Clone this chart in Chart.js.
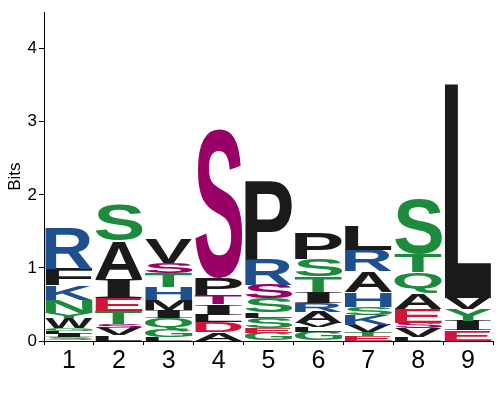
<!DOCTYPE html>
<html>
<head>
<meta charset="utf-8">
<script src="https://cdn.jsdelivr.net/npm/chart.js@4"></script>
<style>
  html, body { margin: 0; padding: 0; background: #fff; }
  #wrap { width: 500px; height: 400px; }
</style>
</head>
<body>
<div id="wrap"><canvas id="logoChart" width="500" height="400"></canvas></div>
<script>
// sequence positions
var positions = ['1', '2', '3', '4', '5', '6', '7', '8', '9'];

// letters per position, bottom to top (lowercase = phospho residue)
var stackLetters = [
  ['S', 'I', 'L', 'G', 'W', 'Y', 'N', 'K', 'F', 'R'],
  ['L', 'V', 's', 'T', 'E', 'I', 'A', 'S'],
  ['L', 'G', 'Q', 'I', 'M', 'H', 'T', 's', 'V'],
  ['A', 'D', 'L', 'I', 't', 'P', 's'],
  ['G', 'E', 'S', 'L', 'S', 's', 'R', 'P'],
  ['G', 'L', 'V', 'A', 'R', 'I', 'T', 'S', 'P'],
  ['E', 'T', 'V', 'K', 'S', 'H', 'A', 'R', 'L'],
  ['L', 'V', 's', 'E', 'A', 'Q', 'T', 'S'],
  ['E', 'I', 'Y', 'V', 'L']
];

// letter heights in bits, same order
var stackBits = [
  [0.05, 0.05, 0.04, 0.04, 0.13, 0.07, 0.18, 0.20, 0.23, 0.56],
  [0.08, 0.10, 0.05, 0.18, 0.18, 0.26, 0.52, 0.49],
  [0.05, 0.10, 0.16, 0.11, 0.14, 0.18, 0.19, 0.14, 0.33],
  [0.12, 0.14, 0.10, 0.14, 0.13, 0.23, 2.04],
  [0.11, 0.07, 0.14, 0.07, 0.19, 0.19, 0.34, 1.08],
  [0.13, 0.06, 0.06, 0.15, 0.12, 0.15, 0.21, 0.24, 0.36],
  [0.07, 0.05, 0.10, 0.14, 0.11, 0.20, 0.29, 0.29, 0.33],
  [0.05, 0.12, 0.08, 0.19, 0.22, 0.28, 0.25, 0.76],
  [0.15, 0.13, 0.16, 0.15, 2.93]
];

var yTicks = [0, 1, 2, 3, 4];

// residue colours
var BLACK = '#1a1a1a', GREEN = '#1d8b3c', BLUE = '#1f4f8f', RED = '#d0143a', PURPLE = '#990066';
var letterColors = {
  A: BLACK, V: BLACK, L: BLACK, I: BLACK, P: BLACK, F: BLACK, M: BLACK, W: BLACK,
  S: GREEN, T: GREEN, Y: GREEN, N: GREEN, Q: GREEN, G: GREEN, C: GREEN,
  K: BLUE, R: BLUE, H: BLUE,
  D: RED, E: RED,
  s: PURPLE, t: PURPLE, y: PURPLE
};

// one dataset per stack level
var depth = Math.max.apply(null, stackBits.map(function(b) { return b.length; }));
var datasets = [];
for (var k = 0; k < depth; k++) {
  datasets.push({
    data: positions.map(function(p, i) { return stackBits[i][k] === undefined ? null : stackBits[i][k]; }),
    letters: positions.map(function(p, i) { return stackLetters[i][k] || null; }),
    backgroundColor: 'rgba(0,0,0,0)',
    borderWidth: 0,
    barPercentage: 0.95,
    categoryPercentage: 1.0
  });
}

// stretch a glyph to fill a box
function drawLetter(ctx, ch, color, left, top, w, h) {
  if (w <= 0 || h <= 0) return;
  ctx.save();
  // I gets serifs so it doesn't turn into a plain block
  ctx.font = ch === 'I' ? 'bold 100px "Liberation Serif", serif' : 'bold 100px "Liberation Sans", Arial, sans-serif';
  var m = ctx.measureText(ch);
  var gw = m.actualBoundingBoxLeft + m.actualBoundingBoxRight;
  var gh = m.actualBoundingBoxAscent + m.actualBoundingBoxDescent;
  ctx.translate(left, top);
  ctx.scale(w / gw, h / gh);
  ctx.fillStyle = color;
  ctx.textAlign = 'left';
  ctx.textBaseline = 'alphabetic';
  ctx.fillText(ch, m.actualBoundingBoxLeft, m.actualBoundingBoxAscent);
  ctx.restore();
}

var letterPlugin = {
  id: 'letters',
  afterDatasetsDraw: function(chart) {
    var ctx = chart.ctx;
    chart.data.datasets.forEach(function(ds, di) {
      var meta = chart.getDatasetMeta(di);
      meta.data.forEach(function(bar, i) {
        var l = ds.letters[i];
        if (!l || ds.data[i] == null) return;
        var p = bar.getProps(['x', 'y', 'base', 'width'], true);
        var top = Math.min(p.y, p.base);
        var h = Math.abs(p.base - p.y);
        drawLetter(ctx, l.toUpperCase(), letterColors[l], p.x - p.width / 2, top, p.width, h);
      });
    });
  }
};

var ctx = document.getElementById('logoChart').getContext('2d');
new Chart(ctx, {
  type: 'bar',
  data: { labels: positions, datasets: datasets },
  options: {
    responsive: false,
    animation: false,
    devicePixelRatio: 1,
    layout: { padding: { top: 8, right: 7, left: 0, bottom: 0 } },
    plugins: { legend: { display: false }, tooltip: { enabled: false } },
    scales: {
      x: {
        stacked: true,
        grid: { drawOnChartArea: false, color: '#000', tickLength: 4 },
        border: { color: '#000', width: 1 },
        ticks: { color: '#000', font: { family: '"Liberation Sans", Arial', size: 25 }, padding: 1 },
        afterFit: function(scale) { scale.height = 59; }
      },
      y: {
        stacked: true,
        min: 0,
        max: 4.5,
        grid: { drawOnChartArea: false, color: '#000', tickLength: 5 },
        border: { color: '#000', width: 1 },
        ticks: { color: '#000', stepSize: 1, font: { family: '"Liberation Sans", Arial', size: 17 }, padding: 2 },
        afterBuildTicks: function(scale) {
          scale.ticks = yTicks.map(function(v) { return { value: v }; });
        },
        title: { display: true, text: 'Bits', color: '#000', font: { family: '"Liberation Sans", Arial', size: 17 }, padding: { top: 5, bottom: 2 } },
        afterFit: function(scale) { scale.width = 44; }
      }
    }
  },
  plugins: [letterPlugin]
});
</script>
</body>
</html>
